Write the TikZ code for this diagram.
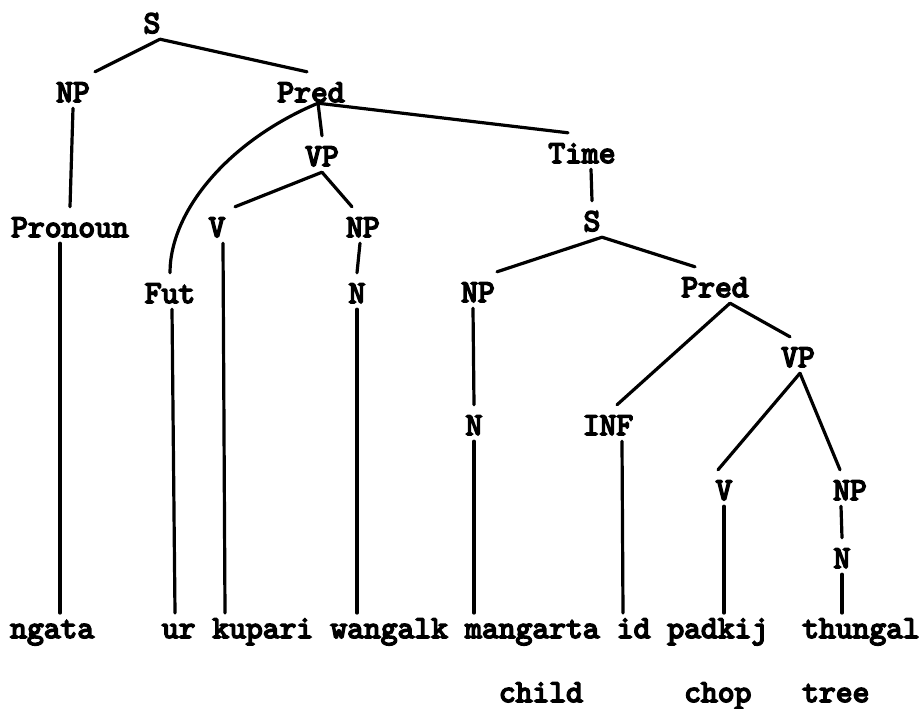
\documentclass[tikz,border=0pt]{standalone}
\usepackage{fontspec}
\newfontfamily\tw{lmmono10-regular.otf}[FakeBold=5]
\begin{document}
\begin{tikzpicture}[x=1pt,y=-1pt,
  lab/.style={font=\tw\fontsize{32pt}{34pt}\selectfont, anchor=base,
    text height=24pt, text depth=0pt, inner xsep=0pt, inner ysep=6pt},
  word/.style={font=\tw\fontsize{32pt}{34pt}\selectfont, anchor=base west,
    text height=20pt, text depth=0pt, inner sep=0pt, outer ysep=5pt},
  edge/.style={line width=3.2pt, line cap=round}]
\useasboundingbox (0,0) rectangle (919,709);
% labels
\node[lab] (S1) at (152,33) {S};
\node[lab] (NP1) at (73,102) {NP};
\node[lab] (Pred1) at (311,102) {Pred};
\node[lab] (Pron) at (70,237) {Pronoun};
\node[lab] (VP1) at (322,166) {VP};
\node[lab] (V1) at (217,237) {V};
\node[lab] (NP2) at (363,237) {NP};
\node[lab] (Fut) at (170,303) {Fut};
\node[lab] (N1) at (357,303) {N};
\node[lab] (Time) at (582,163) {Time};
\node[lab] (S2) at (592,231) {S};
\node[lab] (NP3) at (478,302) {NP};
\node[lab] (Pred2) at (715,297) {Pred};
\node[lab] (N2) at (474,435) {N};
\node[lab] (INF) at (608,435) {INF};
\node[lab] (VP2) at (798,367) {VP};
\node[lab] (V2) at (724,500) {V};
\node[lab] (NP4) at (850,500) {NP};
\node[lab] (N3) at (842,568) {N};
% words
\node[word] (w1) at (10,638) {ngata};
\node[word] (w2) at (161.7,638) {ur};
\node[word] (w3) at (212.2,638) {kupari};
\node[word] (w4) at (330.2,638) {wangalk};
\node[word] (w5) at (465,638) {mangarta};
\node[word] (w6) at (616.6,638) {id};
\node[word] (w7) at (667.2,638) {padkij};
\node[word] (w8) at (802,638) {thungal};
\node[word] (g1) at (498.7,702) {child};
\node[word] (g2) at (684,702) {chop};
\node[word] (g3) at (802,702) {tree};
% apex points
\coordinate (sa) at ([xshift=8pt]S1.south);
\coordinate (pa) at ([xshift=7pt,yshift=5pt]Pred1.south);
\coordinate (s2a) at ([xshift=10pt]S2.south);
\coordinate (p2a) at ([xshift=15pt]Pred2.south);
% edges
\draw[edge] (sa) -- ([xshift=22pt]NP1.north);
\draw[edge] (sa) -- ([xshift=-4pt]Pred1.north);
\draw[edge] (NP1.south) -- (Pron.north);
\draw[edge] ([xshift=-10pt]Pron.south) -- ([xshift=-10pt]Pron.south |- w1.north);
\draw[edge] (pa) .. controls (230,140) and (170,210) .. (Fut.north);
\draw[edge] (pa) -- (VP1.north);
\draw[edge] (pa) -- ([xshift=-14pt]Time.north);
\draw[edge] (VP1.south) -- ([xshift=18pt]V1.north);
\draw[edge] (VP1.south) -- ([xshift=-11pt]NP2.north);
\draw[edge] ([xshift=6pt]V1.south) -- ([xshift=8pt]V1.south |- w3.north);
\draw[edge] ([xshift=-3pt]NP2.south) -- (N1.north);
\draw[edge] (N1.south) -- (N1.south |- w4.north);
\draw[edge] ([xshift=2pt]Fut.south) -- ([xshift=5pt]Fut.south |- w2.north);
\draw[edge] ([xshift=9pt]Time.south) -- (S2.north);
\draw[edge] (s2a) -- ([xshift=19pt]NP3.north);
\draw[edge] (s2a) -- ([xshift=-20pt]Pred2.north);
\draw[edge] ([xshift=-5pt]NP3.south) -- (N2.north);
\draw[edge] (N2.south) -- (N2.south |- w5.north);
\draw[edge] (p2a) -- ([xshift=9pt]INF.north);
\draw[edge] (p2a) -- ([xshift=-8pt]VP2.north);
\draw[edge] ([xshift=2pt]VP2.south) -- ([xshift=-6pt]V2.north);
\draw[edge] ([xshift=2pt]VP2.south) -- ([xshift=-10pt]NP4.north);
\draw[edge] ([xshift=14pt]INF.south) -- ([xshift=15pt]INF.south |- w6.north);
\draw[edge] (V2.south) -- (V2.south |- w7.north);
\draw[edge] ([xshift=-9pt]NP4.south) -- (N3.north);
\draw[edge] (N3.south) -- (N3.south |- w8.north);
\end{tikzpicture}
\end{document}
